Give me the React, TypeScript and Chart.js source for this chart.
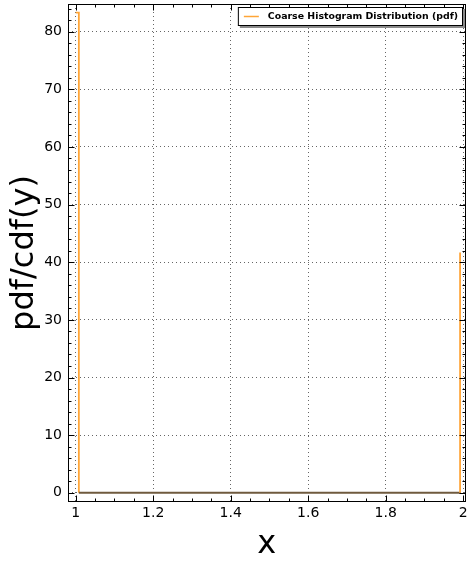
import React, { useEffect, useRef } from 'react';
import { Chart, registerables } from 'chart.js';
Chart.register(...registerables);

// Histogram (steps-post): bin start edges and pdf values
const binEdges = [1.0, 1.008, 1.992];
const binValues = [83.3, 0, 41.7];
const xTicks = [1, 1.2, 1.4, 1.6, 1.8, 2];
const yTicks = [0, 10, 20, 30, 40, 50, 60, 70, 80];
const xMinorStep = 0.05;
const yMinorStep = 2;
const legendLabel = 'Coarse Histogram Distribution (pdf)';
const xTitle = 'x';
const yTitle = 'pdf/cdf(y)';

const ORANGE = '#ffa537';
const ZERO_COLOR = '#6f5a3e';
const FONT = '"DejaVu Sans", sans-serif';

function buildSteps() {
  const pts: { x: number; y: number }[] = [];
  for (let i = 0; i < binEdges.length; i++) {
    pts.push({ x: binEdges[i], y: binValues[i] });
    if (i + 1 < binEdges.length) pts.push({ x: binEdges[i + 1], y: binValues[i] });
  }
  return pts;
}

const framePlugin = {
  id: 'frameTicks',
  afterDraw(chart: any) {
    const { ctx, chartArea: a, scales } = chart;
    const xs = scales.x, ys = scales.y;
    ctx.save();
    ctx.strokeStyle = '#000';
    ctx.lineWidth = 1;
    const line = (x1: number, y1: number, x2: number, y2: number) => {
      ctx.beginPath();
      ctx.moveTo(x1, y1);
      ctx.lineTo(x2, y2);
      ctx.stroke();
    };
    const L = Math.round(a.left) + 0.5, R = Math.round(a.right) - 0.5;
    const T = Math.round(a.top) + 0.5, B = Math.round(a.bottom) - 0.5;
    for (let k = Math.ceil(xs.min / xMinorStep); k * xMinorStep <= xs.max + 1e-9; k++) {
      const v = k * xMinorStep;
      const px = Math.round(xs.getPixelForValue(v)) + 0.5;
      const major = xTicks.some((t) => Math.abs(t - v) < 1e-6);
      const len = major ? 6 : 3;
      line(px, B, px, B - len);
      line(px, T, px, T + len);
    }
    for (let k = Math.ceil(ys.min / yMinorStep); k * yMinorStep <= ys.max + 1e-9; k++) {
      const v = k * yMinorStep;
      const py = Math.round(ys.getPixelForValue(v)) + 0.5;
      const major = yTicks.some((t) => Math.abs(t - v) < 1e-6);
      const len = major ? 6 : 3;
      line(L, py, L + len, py);
      line(R, py, R - len, py);
    }
    ctx.strokeRect(L, T, R - L, B - T);

    // legend
    ctx.font = `bold 9.4px ${FONT}`;
    const tw = ctx.measureText(legendLabel).width;
    const bx2 = Math.round(a.right) - 3;
    const bx1 = bx2 - (tw + 35);
    const by1 = a.top + 3, by2 = by1 + 19;
    ctx.fillStyle = '#8a8a8a';
    ctx.fillRect(bx1 + 2, by1 + 2, bx2 - bx1, by2 - by1);
    ctx.fillStyle = '#fff';
    ctx.fillRect(bx1, by1, bx2 - bx1, by2 - by1);
    ctx.strokeStyle = '#000';
    ctx.strokeRect(bx1 + 0.5, by1 + 0.5, bx2 - bx1 - 1, by2 - by1 - 1);
    const my = (by1 + by2) / 2;
    ctx.strokeStyle = ORANGE;
    ctx.lineWidth = 1.5;
    line(bx1 + 6, my, bx1 + 21, my);
    ctx.fillStyle = '#000';
    ctx.textBaseline = 'middle';
    ctx.textAlign = 'left';
    ctx.fillText(legendLabel, bx1 + 30, my + 0.5);
    ctx.restore();
  },
};

export default function App() {
  const ref = useRef<HTMLCanvasElement>(null);
  useEffect(() => {
    document.body.style.margin = '0';
    const canvas = ref.current!;
    const chart = new Chart(canvas, {
      type: 'line',
      data: {
        datasets: [
          {
            label: legendLabel,
            data: buildSteps(),
            borderColor: ORANGE,
            backgroundColor: ORANGE,
            borderWidth: 1.8,
            pointRadius: 0,
            fill: false,
            tension: 0,
            segment: {
              borderColor: (c: any) =>
                c.p0.parsed.y === 0 && c.p1.parsed.y === 0 ? ZERO_COLOR : ORANGE,
              borderWidth: (c: any) =>
                c.p0.parsed.y === 0 && c.p1.parsed.y === 0 ? 2 : 1.8,
            },
          },
        ],
      },
      options: {
        responsive: false,
        animation: false,
        devicePixelRatio: 1,
        layout: { padding: { top: 4, right: 2.5, left: 0, bottom: 0 } },
        plugins: { legend: { display: false }, tooltip: { enabled: false } },
        scales: {
          x: {
            type: 'linear',
            min: 0.98,
            max: 2.006,
            afterFit: (s: any) => {
              s.height = 61;
              s.paddingLeft = 0;
              s.paddingRight = 0;
            },
            afterBuildTicks: (s: any) => {
              s.ticks = xTicks.map((v) => ({ value: v }));
            },
            ticks: {
              color: '#000',
              font: { family: FONT, size: 14 },
              padding: 3,
              maxRotation: 0,
              autoSkip: false,
              callback: (v: any) => String(v),
            },
            grid: { color: 'rgba(0,0,0,0.6)', drawTicks: false, lineWidth: 1 },
            border: { display: false, dash: [1, 3] },
            title: {
              display: true,
              text: xTitle,
              color: '#000',
              font: { family: FONT, size: 32, lineHeight: 1.0 },
              padding: { top: 0, bottom: 2 },
            },
          },
          y: {
            type: 'linear',
            min: -1.6,
            max: 84.8,
            afterFit: (s: any) => {
              s.width = 68;
              s.paddingTop = 0;
              s.paddingBottom = 0;
            },
            afterBuildTicks: (s: any) => {
              s.ticks = yTicks.map((v) => ({ value: v }));
            },
            ticks: {
              color: '#000',
              font: { family: FONT, size: 14 },
              padding: 6,
              autoSkip: false,
              callback: (v: any) => String(v),
            },
            grid: { color: 'rgba(0,0,0,0.6)', drawTicks: false, lineWidth: 1 },
            border: { display: false, dash: [1, 3] },
            title: {
              display: true,
              text: yTitle,
              color: '#000',
              font: { family: FONT, size: 32, lineHeight: 1.0 },
              padding: { top: 9, bottom: 0 },
            },
          },
        },
      },
      plugins: [framePlugin],
    });
    return () => chart.destroy();
  }, []);
  return (
    <div style={{ width: 468, height: 563 }}>
      <canvas ref={ref} width={468} height={563} style={{ width: 468, height: 563, display: 'block' }} />
    </div>
  );
}
